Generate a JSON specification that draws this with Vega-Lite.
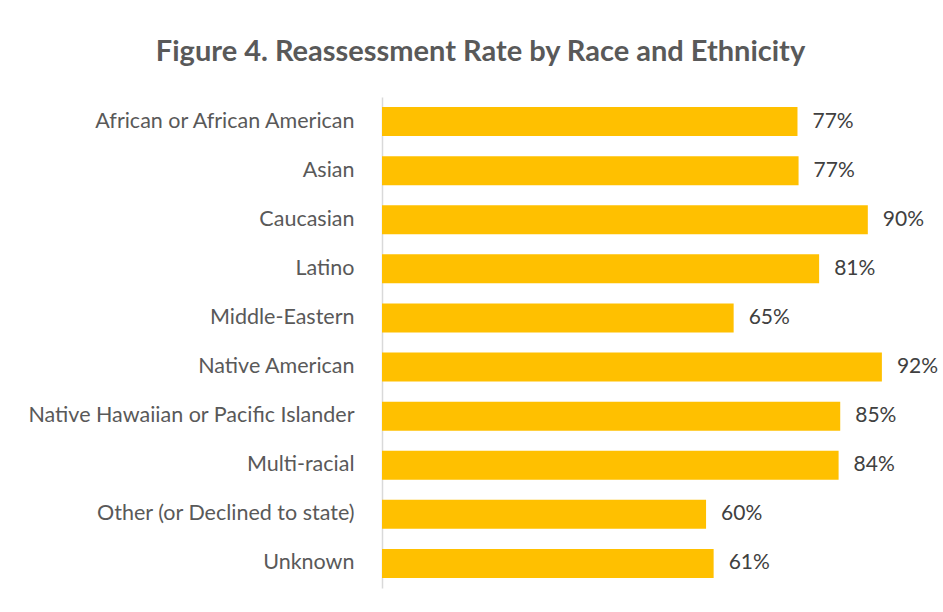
{
  "$schema": "https://vega.github.io/schema/vega-lite/v6.json",
  "autosize": {"type": "none"},
  "padding": {"left": 382, "top": 97, "right": 20, "bottom": 24},
  "width": 541,
  "height": 491,
  "background": "white",
  "title": {
    "text": "Figure 4. Reassessment Rate by Race and Ethnicity",
    "font": "Lato",
    "fontSize": 29,
    "fontWeight": "bold",
    "color": "#595959",
    "anchor": "middle",
    "frame": "group",
    "dx": -172,
    "offset": 30
  },
  "data": {
    "values": [
      {"group": "African or African American", "rate": 0.768},
      {"group": "Asian", "rate": 0.770},
      {"group": "Caucasian", "rate": 0.898},
      {"group": "Latino", "rate": 0.808},
      {"group": "Middle-Eastern", "rate": 0.650},
      {"group": "Native American", "rate": 0.924},
      {"group": "Native Hawaiian or Pacific Islander", "rate": 0.847},
      {"group": "Multi-racial", "rate": 0.844},
      {"group": "Other (or Declined to state)", "rate": 0.599},
      {"group": "Unknown", "rate": 0.613}
    ]
  },
  "encoding": {
    "y": {
      "field": "group",
      "type": "nominal",
      "sort": null,
      "scale": {"paddingInner": 0.41, "paddingOuter": 0.205},
      "axis": {
        "title": null,
        "ticks": false,
        "domainColor": "#d9d9d9",
        "domainWidth": 1.5,
        "labelFont": "Lato",
        "labelFontSize": 21.5,
        "labelColor": "#595959",
        "labelPadding": 28,
        "labelLimit": 400
      }
    },
    "x": {
      "field": "rate",
      "type": "quantitative",
      "scale": {"domain": [0, 1], "nice": false},
      "axis": null
    }
  },
  "layer": [
    {"mark": {"type": "bar", "color": "#FFC000"}},
    {
      "mark": {
        "type": "text",
        "align": "left",
        "baseline": "middle",
        "dx": 15,
        "font": "Lato",
        "fontSize": 21,
        "color": "#404040"
      },
      "encoding": {"text": {"field": "rate", "type": "quantitative", "format": ".0%"}}
    }
  ],
  "config": {"view": {"stroke": null}}
}
